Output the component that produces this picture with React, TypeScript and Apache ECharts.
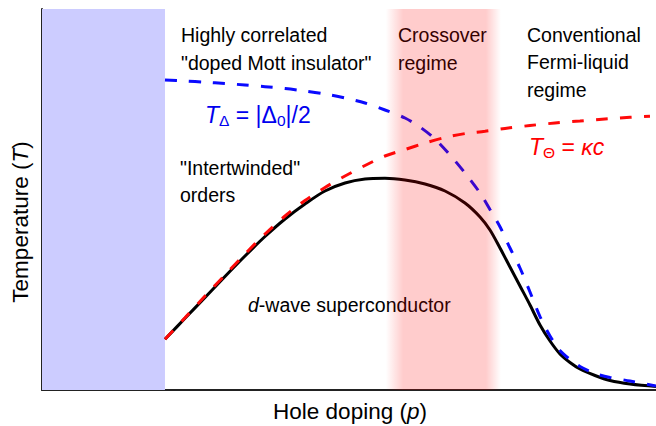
import React, { useEffect, useRef } from "react";
import * as echarts from "echarts";

// Doping (x, 0..100) and temperature (y, 0..100) in arbitrary units
const blackX = [20.03, 23.29, 26.55, 29.8, 33.06, 36.32, 39.58, 42.83, 46.09, 49.35, 52.61, 55.86, 59.12, 62.38, 65.64, 68.89, 71.34, 72.96, 74.59, 76.22, 77.85, 79.48, 81.11, 82.74, 84.36, 85.99, 87.62, 90.07, 92.51, 95.77, 100];
const blackY = [13.31, 18.82, 24.28, 29.79, 35.17, 40.29, 44.88, 48.81, 52.23, 54.33, 55.38, 55.56, 55.12, 54.07, 52.23, 49.08, 45.41, 42.0, 37.27, 32.28, 27.3, 22.31, 17.06, 12.86, 9.45, 7.22, 5.51, 3.81, 2.49, 1.57, 0.92];

const blueX = [20.03, 23.29, 26.55, 29.8, 33.06, 36.32, 39.58, 42.83, 46.09, 49.35, 52.61, 55.86, 59.12, 61.56, 64.01, 66.45, 68.89, 71.34, 72.96, 74.59, 76.22, 77.85, 79.48, 81.11, 82.74, 84.36, 85.99, 87.62, 90.07, 92.51, 95.77, 100];
const blueY = [81.36, 81.1, 80.79, 80.45, 80.05, 79.61, 79.13, 78.48, 77.69, 76.64, 75.33, 73.49, 71.39, 69.03, 65.88, 61.68, 56.96, 51.71, 47.38, 42.86, 37.27, 32.02, 25.72, 19.24, 14.17, 10.37, 8.01, 6.17, 4.33, 3.28, 2.36, 1.05];

const redX = [20.03, 23.29, 26.55, 29.8, 33.06, 36.32, 39.58, 42.83, 46.09, 49.35, 52.61, 55.86, 59.12, 62.38, 65.64, 68.89, 72.15, 75.41, 79.48, 83.55, 87.62, 91.69, 95.77, 99.02];
const redY = [13.31, 18.95, 24.67, 30.18, 35.7, 40.94, 45.67, 49.74, 53.15, 56.17, 58.92, 61.42, 63.12, 64.83, 66.27, 67.3, 67.9, 68.64, 69.42, 70.08, 70.6, 71.13, 71.57, 71.84];

const insulatingBand = [0, 20.03];
const crossoverBand = [56.0, 74.75];

const FONT = "'Liberation Sans', Arial, Helvetica, sans-serif";

const zip = (xs: number[], ys: number[]) => xs.map((x, i) => [x, ys[i]]);

export default function App() {
  const ref = useRef<HTMLDivElement>(null);
  useEffect(() => {
    if (!ref.current) return;
    const chart = echarts.init(ref.current, null, { renderer: "svg" });

    const bandSeries = (band: number[], fill: any, z: number) => ({
      type: "custom",
      z,
      silent: true,
      data: [band],
      renderItem: (params: any, api: any) => {
        const p0 = api.coord([api.value(0), 100]);
        const p1 = api.coord([api.value(1), 0]);
        return {
          type: "rect",
          shape: { x: p0[0], y: p0[1], width: p1[0] - p0[0], height: p1[1] - p0[1] },
          style: { fill },
        };
      },
    });

    const pinkGrad = new echarts.graphic.LinearGradient(0, 0, 1, 0, [
      { offset: 0, color: "rgba(255,0,0,0)" },
      { offset: 0.15, color: "rgba(255,0,0,0.2)" },
      { offset: 0.87, color: "rgba(255,0,0,0.2)" },
      { offset: 1, color: "rgba(255,0,0,0)" },
    ]);

    const txt = (x: number, y: number, text: string, extra: any = {}) => ({
      type: "text",
      x,
      y,
      silent: true,
      style: {
        text,
        fontFamily: FONT,
        fontSize: 19.5,
        fill: "#000",
        lineHeight: 27.5,
        align: "left",
        verticalAlign: "top",
        ...extra,
      },
    });

    const lineSeries = (xs: number[], ys: number[], z: number, lineStyle: any) => ({
      type: "line",
      z,
      data: zip(xs, ys),
      smooth: 0.3,
      showSymbol: false,
      silent: true,
      lineStyle,
    });

    chart.setOption({
      animation: false,
      grid: { left: 42, right: 0, top: 9, bottom: 36 },
      xAxis: {
        type: "value",
        min: 0,
        max: 100,
        axisLine: { show: true, onZero: false, lineStyle: { color: "#222", width: 2 } },
        axisTick: { show: false },
        axisLabel: { show: false },
        splitLine: { show: false },
      },
      yAxis: {
        type: "value",
        min: 0,
        max: 100,
        axisLine: { show: true, onZero: false, lineStyle: { color: "#222", width: 2 } },
        axisTick: { show: false },
        axisLabel: { show: false },
        splitLine: { show: false },
      },
      series: [
        bandSeries(insulatingBand, "#ccccff", 1),
        lineSeries(blackX, blackY, 2, { color: "#000", width: 3 }),
        lineSeries(redX, redY, 3, { color: "#ff0a0a", width: 3, type: [12, 12] }),
        lineSeries(blueX, blueY, 4, { color: "#0a0aff", width: 3, type: [12, 12] }),
        bandSeries(crossoverBand, pinkGrad, 6),
      ],
      graphic: [
        txt(62, 21.25, "Spin and\ncharge\nordered\ninsulating\nstates"),
        txt(181, 21, 'Highly correlated\n"doped Mott insulator"', { lineHeight: 28 }),
        txt(398, 21, "Crossover\nregime", { lineHeight: 28 }),
        txt(527, 21, "Conventional\nFermi-liquid\nregime", { lineHeight: 27.5 }),
        txt(180, 154.5, '"Intertwinded"\norders', { lineHeight: 27 }),
        txt(248, 305, "{i|d}-wave superconductor", {
          verticalAlign: "middle",
          rich: { i: { fontStyle: "italic", fontFamily: FONT, fontSize: 19.5, fill: "#000" } },
        }),
        txt(205, 115, "{i|T}{s|Δ} = |Δ{s|0}|/2", {
          verticalAlign: "middle",
          fontSize: 23,
          lineHeight: 26,
          fill: "#0000ee",
          rich: {
            i: { fontStyle: "italic", fontFamily: FONT, fontSize: 23, lineHeight: 26, fill: "#0000ee" },
            s: { fontFamily: FONT, fontSize: 15.5, lineHeight: 16, verticalAlign: "bottom", fill: "#0000ee" },
          },
        }),
        txt(529, 147, "{i|T}{s|Θ} = {i|κc}", {
          verticalAlign: "middle",
          fontSize: 23,
          lineHeight: 26,
          fill: "#ff0000",
          rich: {
            i: { fontStyle: "italic", fontFamily: FONT, fontSize: 23, lineHeight: 26, fill: "#ff0000" },
            s: { fontFamily: FONT, fontSize: 15.5, lineHeight: 16, verticalAlign: "bottom", fill: "#ff0000" },
          },
        }),
        txt(350, 411, "Hole doping ({i|p})", {
          align: "center",
          verticalAlign: "middle",
          fontSize: 22.5,
          lineHeight: 26,
          rich: { i: { fontStyle: "italic", fontFamily: FONT, fontSize: 22.5, lineHeight: 26, fill: "#000" } },
        }),
        {
          type: "text",
          x: 20,
          y: 222,
          rotation: Math.PI / 2,
          silent: true,
          style: {
            text: "Temperature ({i|T})",
            fontFamily: FONT,
            fontSize: 22.5,
            lineHeight: 26,
            fill: "#000",
            align: "center",
            verticalAlign: "middle",
            rich: { i: { fontStyle: "italic", fontFamily: FONT, fontSize: 22.5, lineHeight: 26, fill: "#000" } },
          },
        },
      ],
    });
    return () => chart.dispose();
  }, []);
  return (
    <div
      ref={ref}
      style={{ position: "fixed", left: 0, top: 0, width: 656, height: 426, background: "#fff" }}
    />
  );
}
